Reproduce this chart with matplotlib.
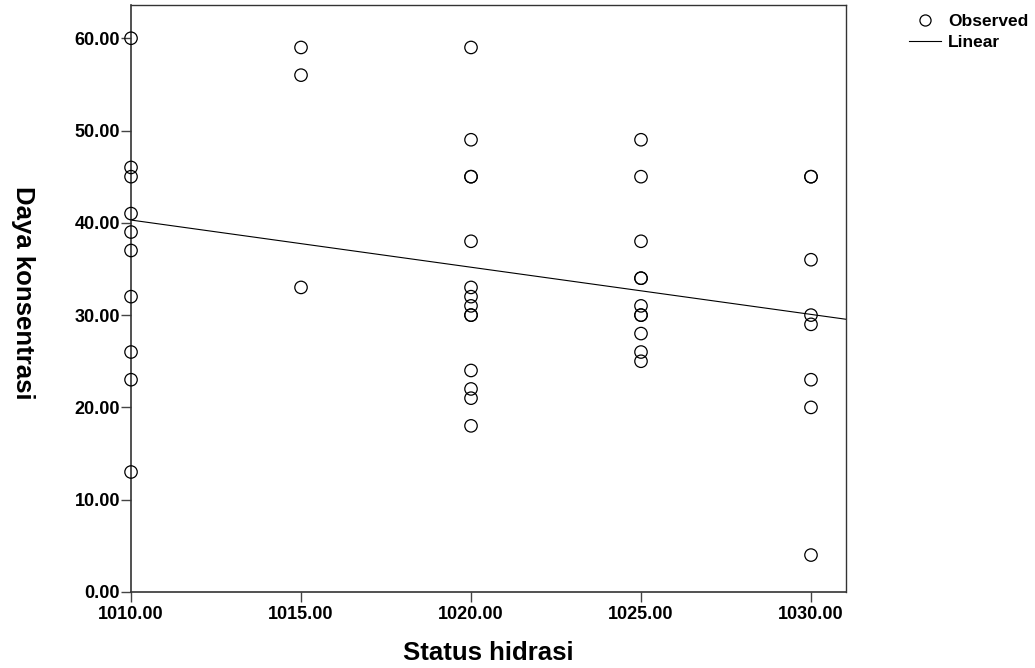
import numpy as np
import matplotlib.pyplot as plt
from matplotlib.lines import Line2D

plt.rcParams['font.family'] = ['Liberation Sans', 'DejaVu Sans']

# observed data
status_hidrasi = (
    [1010] * 10 + [1015] * 3 + [1020] * 14 + [1025] * 11 + [1030] * 8
)
daya_konsentrasi = [
    60, 46, 45, 41, 39, 37, 32, 26, 23, 13,
    59, 56, 33,
    59, 49, 45, 45, 38, 33, 32, 31, 30, 30, 24, 22, 21, 18,
    49, 45, 38, 34, 34, 31, 30, 30, 28, 26, 25,
    45, 45, 36, 30, 29, 23, 20, 4,
]
# linear fit line (ends at the axis edges)
fit_x = [1010, 1031.03]
fit_y = [40.3, 29.55]

x_ticks = [1010, 1015, 1020, 1025, 1030]
y_ticks = [0, 10, 20, 30, 40, 50, 60]

fig = plt.figure(figsize=(10.35, 6.68), dpi=100)
ax = fig.add_axes([0.1266, 0.1138, 0.6908, 0.8787])

ax.scatter(status_hidrasi, daya_konsentrasi, s=80, facecolors='none',
           edgecolors='black', linewidths=0.9, zorder=3, clip_on=False)
ax.plot(fit_x, fit_y, color='black', lw=0.8, zorder=2)

ax.set_xlim(1010, 1031.03)
ax.set_ylim(0, 63.6)
ax.set_xticks(x_ticks)
ax.set_yticks(y_ticks)
ax.set_xticklabels([f'{v:.2f}' for v in x_ticks], fontsize=13, fontweight='bold')
ax.set_yticklabels([f'{v:.2f}' for v in y_ticks], fontsize=13, fontweight='bold')
ax.tick_params(direction='out', length=7, width=1, color='#444444')
ax.tick_params(axis='x', pad=3)
ax.tick_params(axis='y', pad=1)

for side in ['left', 'bottom', 'top', 'right']:
    ax.spines[side].set_color('#333333')
    ax.spines[side].set_linewidth(1.2)
ax.spines['top'].set_linewidth(1.0)
ax.spines['right'].set_linewidth(1.0)

ax.set_xlabel('Status hidrasi', fontsize=18.5, fontweight='bold', va='center')
ax.xaxis.set_label_coords(0.5, -0.1045)
ax.set_ylabel('Daya konsentrasi', fontsize=18.5, fontweight='bold', rotation=270,
              va='center')
ax.yaxis.set_label_coords(-0.151, 0.51)

handles = [
    Line2D([], [], marker='o', ls='none', markerfacecolor='none',
           markeredgecolor='black', markersize=8, markeredgewidth=0.9),
    Line2D([], [], color='black', lw=0.8),
]
fig.legend(handles, ['Observed', 'Linear'], loc='upper left',
           bbox_to_anchor=(0.8783, 0.9795), frameon=False, borderpad=0,
           borderaxespad=0, handlelength=1.85, handletextpad=0.4,
           labelspacing=0.37, prop={'weight': 'bold', 'size': 12.5})

fig.savefig('out.png', dpi=100)
